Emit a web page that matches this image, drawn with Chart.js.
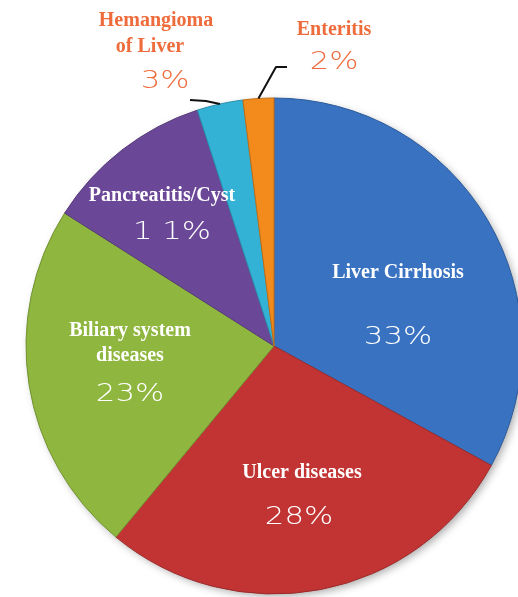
<!DOCTYPE html>
<html>
<head>
<meta charset="utf-8">
<script src="https://cdn.jsdelivr.net/npm/chart.js@4/dist/chart.umd.min.js"></script>
<style>
html,body{margin:0;padding:0;background:#fff;overflow:hidden;}
#wrap{position:relative;width:518px;height:597px;}
</style>
</head>
<body>
<div id="wrap"><canvas id="c" width="518" height="597"></canvas></div>
<script>
const categories = ['Liver Cirrhosis', 'Ulcer diseases', 'Biliary system diseases', 'Pancreatitis/Cyst', 'Hemangioma of Liver', 'Enteritis'];
const values = [33, 28, 23, 11, 3, 2];
const pctLabels = ['33%', '28%', '23%', '1 1%', '3%', '2%'];
const nameLines = [['Liver Cirrhosis'], ['Ulcer diseases'], ['Biliary system', 'diseases'], ['Pancreatitis/Cyst'], ['Hemangioma', 'of Liver'], ['Enteritis']];
const colors = ['#3872c0', '#c23434', '#8fb63f', '#6b4897', '#33b2d6', '#f28a1c'];

// text placement relative to pie centre (name lines, then percent)
const textLayout = [
  {x:124, y:[-73], py:-8, color:'#ffffff'},
  {x:28, y:[127], py:172, px:25, color:'#ffffff'},
  {x:-144, y:[-15, 10], py:49, color:'#ffffff'},
  {x:-112, y:[-150], py:-113, px:-102, color:'#ffffff'},
  {x:-117, y:[-325, -299], xs:[-118, -124], py:-264, px:-109, color:'#ee6c3c'},
  {x:60, y:[-316], py:-283, color:'#ee6c3c'}
];

function shade(hex, f){
  const n = parseInt(hex.slice(1),16);
  let r=(n>>16)&255,g=(n>>8)&255,b=n&255;
  if(f>=0){r=r+(255-r)*f;g=g+(255-g)*f;b=b+(255-b)*f;}
  else{r=r*(1+f);g=g*(1+f);b=b*(1+f);}
  return 'rgb('+Math.round(r)+','+Math.round(g)+','+Math.round(b)+')';
}

function bg(ctx){
  const chart = ctx.chart;
  const arc = chart.getDatasetMeta(0).data[ctx.dataIndex];
  const base = colors[ctx.dataIndex];
  if(!arc || !arc.outerRadius) return base;
  const g = chart.ctx.createRadialGradient(arc.x, arc.y, 0, arc.x, arc.y, arc.outerRadius);
  g.addColorStop(0, shade(base, 0.02));
  g.addColorStop(0.9, base);
  g.addColorStop(0.95, shade(base, 0.12));
  g.addColorStop(1, shade(base, -0.25));
  return g;
}

const shadowPlugin = {
  id:'shadow',
  beforeDatasetsDraw(chart){
    const arc = chart.getDatasetMeta(0).data[0];
    if(!arc) return;
    const c = chart.ctx;
    c.save();
    c.shadowColor = 'rgba(0,0,0,0.35)';
    c.shadowBlur = 8;
    c.shadowOffsetX = 3;
    c.shadowOffsetY = 3;
    c.beginPath();
    c.arc(arc.x, arc.y, arc.outerRadius-1, 0, Math.PI*2);
    c.fillStyle = '#ffffff';
    c.fill();
    c.restore();
  }
};

const labelPlugin = {
  id:'labels',
  afterDatasetsDraw(chart){
    const meta = chart.getDatasetMeta(0);
    const c = chart.ctx;
    const cx = meta.data[0].x, cy = meta.data[0].y;
    c.save();
    // leader lines
    c.strokeStyle = '#111';
    c.lineWidth = 2;
    c.lineJoin = 'round';
    [4,5].forEach(i=>{
      const a = meta.data[i];
      const mid = (a.startAngle + a.endAngle)/2;
      const sx = a.x + Math.cos(mid)*a.outerRadius;
      const sy = a.y + Math.sin(mid)*a.outerRadius;
      c.beginPath();
      c.moveTo(sx, sy);
      if(i===4){
        c.lineTo(sx-14, sy-3);
        c.lineTo(cx-84, cy-246);
      } else {
        c.lineTo(cx+2, cy-279);
        c.lineTo(cx+13, cy-279);
      }
      c.stroke();
    });
    c.textAlign = 'center';
    c.textBaseline = 'middle';
    textLayout.forEach((t,i)=>{
      c.fillStyle = t.color;
      c.font = 'bold 20px "Liberation Serif", "DejaVu Serif", serif';
      nameLines[i].forEach((line,j)=>{
        const x = t.xs ? t.xs[j] : t.x;
        c.fillText(line, cx + x, cy + t.y[j]);
      });
      const px = (t.px !== undefined) ? t.px : t.x;
      c.save();
      c.translate(cx + px, cy + t.py);
      c.scale(1.28, 1);
      c.font = '200 24px "DejaVu Sans", sans-serif';
      c.fillText(pctLabels[i], 0, 0);
      c.restore();
    });
    c.restore();
  }
};

new Chart(document.getElementById('c'), {
  type:'pie',
  data:{
    labels: categories,
    datasets:[{
      data: values,
      backgroundColor: bg,
      borderColor: colors.map(c=>shade(c,-0.2)),
      borderWidth: 1
    }]
  },
  options:{
    responsive:false,
    animation:false,
    radius:248,
    layout:{padding:{left:30, right:0, top:95, bottom:0}},
    plugins:{legend:{display:false}, tooltip:{enabled:false}}
  },
  plugins:[shadowPlugin, labelPlugin]
});
</script>
</body>
</html>
